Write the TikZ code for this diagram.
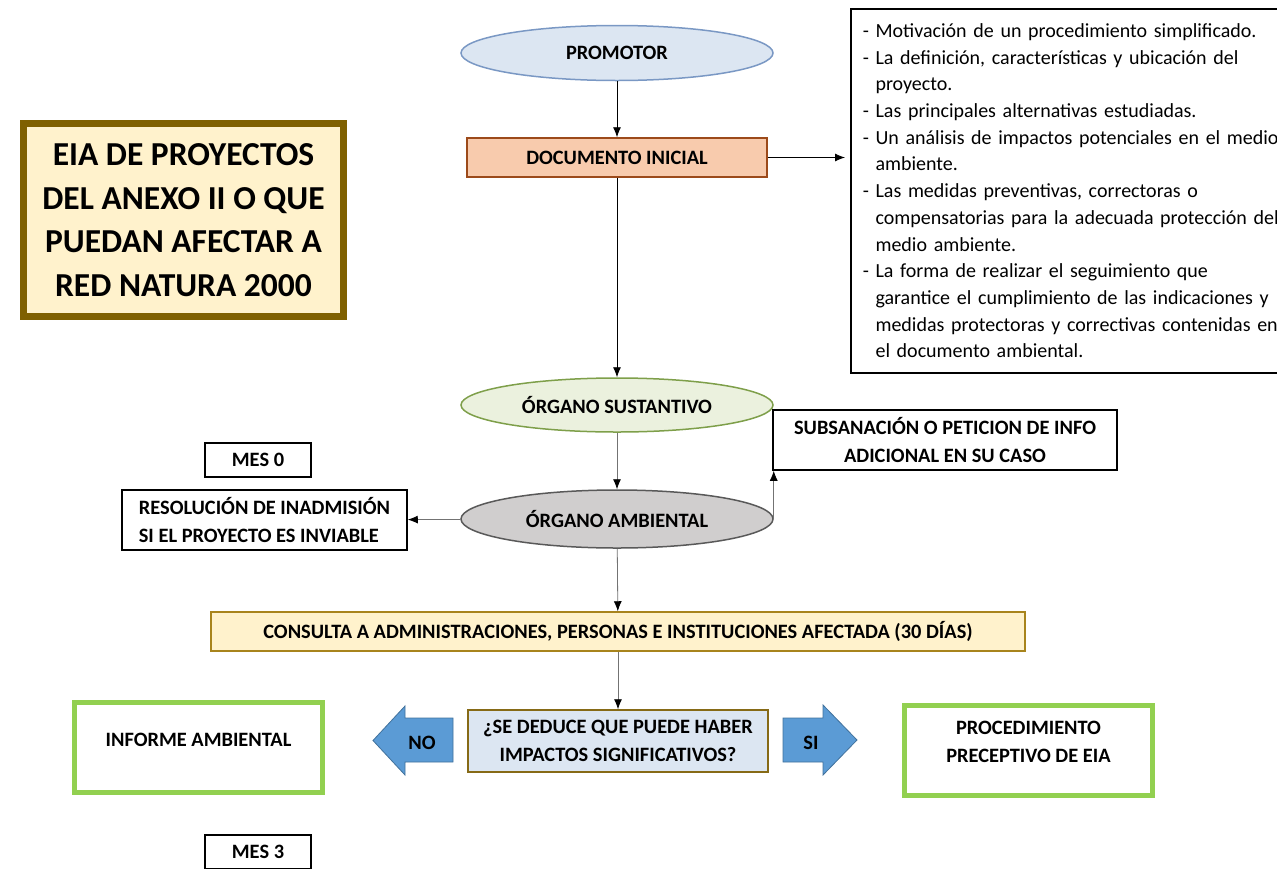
\documentclass[tikz,border=0pt]{standalone}
\usepackage{fontspec}
\setmainfont{Carlito}
\usepackage{tikz}
\usetikzlibrary{shapes.geometric, arrows.meta}

\definecolor{azulclaro}{HTML}{DCE6F2}
\definecolor{azulborde}{HTML}{7A98C4}
\definecolor{naranja}{HTML}{F8CBAD}
\definecolor{naranjaborde}{HTML}{9C4A1A}
\definecolor{crema}{HTML}{FFF2CC}
\definecolor{marron}{HTML}{7F6000}
\definecolor{oro}{HTML}{A8841C}
\definecolor{verdeclaro}{HTML}{EBF1DE}
\definecolor{verdeborde}{HTML}{7E9F4A}
\definecolor{gris}{HTML}{D0CECE}
\definecolor{grisborde}{HTML}{595959}
\definecolor{verde}{HTML}{92D050}
\definecolor{flechaazul}{HTML}{5B9BD5}
\definecolor{flechaborde}{HTML}{41719C}

\begin{document}
\begin{tikzpicture}[x=1pt, y=-1pt,
    flecha/.style={-{Latex[length=10pt,width=8pt]}, line width=0.8pt},
    flechagris/.style={-{Latex[length=10pt,width=8pt,black]}, line width=0.8pt, black!55},
    elipse/.style={ellipse, draw, line width=1.5pt, minimum width=312, minimum height=55,
        inner sep=0pt, font=\fontsize{20.4}{24}\selectfont\bfseries},
    caja/.style={draw, line width=1.5pt, inner sep=0pt, align=center,
        font=\fontsize{20.4}{28}\selectfont\bfseries},
    cajaverde/.style={caja, draw=verde, line width=5pt},
    bloque/.style={fill=flechaazul, draw=flechaborde, line width=0.8pt}]

    \useasboundingbox (0,0) rectangle (1277,868);

    % columna central
    \node[elipse, fill=azulclaro, draw=azulborde] (promotor) at (617,53) {PROMOTOR};
    \node[caja, fill=naranja, draw=naranjaborde, minimum width=300, minimum height=39] (documento) at (617,157.5) {DOCUMENTO INICIAL};
    \node[elipse, fill=verdeclaro, draw=verdeborde, minimum height=54] (sustantivo) at (617,405) {ÓRGANO SUSTANTIVO};
    \node[elipse, fill=gris, draw=grisborde, minimum height=58] (ambiental) at (617,519) {ÓRGANO AMBIENTAL};
    \node[caja, fill=crema, draw=oro, minimum width=814, minimum height=39] (consulta) at (618,631.5) {CONSULTA A ADMINISTRACIONES, PERSONAS E INSTITUCIONES AFECTADA (30 DÍAS)};
    \node[caja, fill=azulclaro, draw=oro!80!black, minimum width=300, minimum height=62] (pregunta) at (618,741) {¿SE DEDUCE QUE PUEDE HABER\\IMPACTOS SIGNIFICATIVOS?};

    % titulo
    \node[draw=marron, fill=crema, line width=7pt, minimum width=320, minimum height=193, align=center,
        font=\fontsize{33.5}{43.7}\selectfont\bfseries] (titulo) at (183.5,220)
        {EIA DE PROYECTOS\\DEL ANEXO II O QUE\\PUEDAN AFECTAR A\\RED NATURA 2000};

    % contenido del documento inicial
    \node[draw, line width=1.5pt, anchor=north west, inner xsep=12pt, inner ysep=0pt, text width=440,
        minimum height=364, align=left, font=\fontsize{20}{26.7}\selectfont] (contenido) at (850,8)
        {- Motivación de un procedimiento simplificado.\\
         - La definición, características y ubicación del\\
         \hphantom{- }proyecto.\\
         - Las principales alternativas estudiadas.\\
         - Un análisis de impactos potenciales en el medio\\
         \hphantom{- }ambiente.\\
         - Las medidas preventivas, correctoras o\\
         \hphantom{- }compensatorias para la adecuada protección del\\
         \hphantom{- }medio ambiente.\\
         - La forma de realizar el seguimiento que\\
         \hphantom{- }garantice el cumplimiento de las indicaciones y\\
         \hphantom{- }medidas protectoras y correctivas contenidas en\\
         \hphantom{- }el documento ambiental.};

    % cajas laterales
    \node[caja, minimum width=106, minimum height=34] (mescero) at (258,460) {MES 0};
    \node[caja, minimum width=344, minimum height=60] (subsanacion) at (945,440) {SUBSANACIÓN O PETICION DE INFO\\ADICIONAL EN SU CASO};
    \node[caja, minimum width=285, minimum height=60, align=left] (resolucion) at (264.5,520) {RESOLUCIÓN DE INADMISIÓN\\SI EL PROYECTO ES INVIABLE};
    \node[cajaverde, minimum width=248, minimum height=90, text depth=16pt] (informe) at (198.5,747.5) {INFORME AMBIENTAL};
    \node[cajaverde, minimum width=248, minimum height=90, text depth=18pt] (procedimiento) at (1028.5,750.5) {PROCEDIMIENTO\\PRECEPTIVO DE EIA};
    \node[caja, minimum width=106, minimum height=34] (mestres) at (258,852) {MES 3};

    % flechas de bloque
    \draw[bloque] (453,718) -- (405,718) -- (405,706) -- (373,740.5) -- (405,775) -- (405,762) -- (453,762) -- cycle;
    \node[font=\fontsize{20.4}{24}\selectfont\bfseries] (no) at (422,743) {NO};
    \draw[bloque] (783,718) -- (823,718) -- (823,705) -- (857,740) -- (823,775) -- (823,762) -- (783,762) -- cycle;
    \node[font=\fontsize{20.4}{24}\selectfont\bfseries] (si) at (811,743) {SI};

    % conectores
    \draw[flecha] (promotor) -- (documento);
    \draw[flecha, shorten >=5pt] (documento.east) -- (contenido.west |- documento.east);
    \draw[flecha] (documento) -- (sustantivo);
    \draw[flechagris] (sustantivo) -- (ambiental);
    \draw[flechagris] (ambiental) -- (resolucion);
    \draw[flechagris] (ambiental.east) -- (ambiental.east |- subsanacion.south);
    \draw[flechagris] (ambiental) -- (consulta);
    \draw[flechagris] (consulta) -- (pregunta);
\end{tikzpicture}
\end{document}
